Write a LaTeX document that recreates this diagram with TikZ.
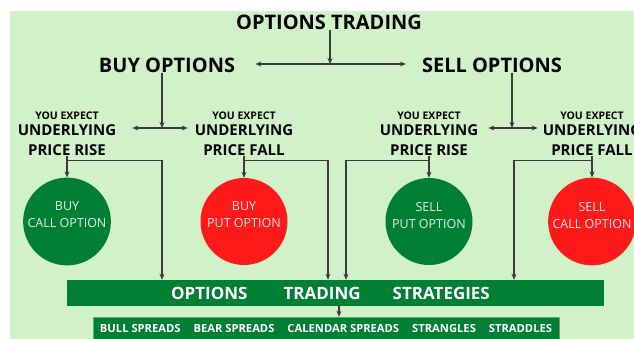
\documentclass[tikz,border=0pt]{standalone}
\usepackage{fontspec}
\setmainfont{Open Sans}
\usetikzlibrary{arrows.meta}

\definecolor{paleleaf}{HTML}{D1F2C8}
\definecolor{bull}{HTML}{007F35}
\definecolor{bear}{HTML}{FF1A1A}
\definecolor{wire}{HTML}{3A3A3A}

\newcommand{\expect}[1]{%
  {\fontsize{10.5}{12}\selectfont YOU EXPECT}\\[-3pt]
  UNDERLYING\\[1pt]
  PRICE #1}

\tikzset{
  >={Stealth[length=6pt,width=5pt]},
  arr/.style={draw=wire, line width=1.1pt, ->},
  head/.style={font=\bfseries\fontsize{20}{20}\selectfont, inner sep=0pt},
  expectation/.style={align=center, inner sep=0pt,
    font=\bfseries\fontsize{15}{19}\selectfont},
  choice/.style={circle, minimum size=87pt, inner sep=0pt, align=center,
    text depth=13pt, text=white, text opacity=0.88,
    font=\fontsize{12.5}{17}\selectfont},
  bar/.style={fill=bull, text=white, inner sep=0pt},
}

\begin{document}
\begin{tikzpicture}[x=1pt,y=-1pt]
  \useasboundingbox (0,0) rectangle (634,339);
  \fill[white] (0,0) rectangle (634,339);
  \fill[paleleaf] (10,11) rectangle (634,339);

  \node[head] (title) at (329,22) {OPTIONS TRADING};
  \node[head] (buy) at (167,65) {BUY OPTIONS};
  \node[head] (sell) at (492,65) {SELL OPTIONS};

  \node[expectation] (buyrise) at (67,134) {\expect{RISE}};
  \node[expectation] (buyfall) at (244,134) {\expect{FALL}};
  \node[expectation] (sellrise) at (429,134) {\expect{RISE}};
  \node[expectation] (sellfall) at (592,134) {\expect{FALL}};

  \node[choice, fill=bull] (buycall) at (67,221.5) {BUY\\CALL OPTION};
  \node[choice, fill=bear] (buyput) at (244,221.5) {BUY\\PUT OPTION};
  \node[choice, fill=bull] (sellput) at (429,221.5) {SELL\\PUT OPTION};
  \node[choice, fill=bear] (sellcall) at (592,221.5) {SELL\\CALL OPTION};

  \node[bar, minimum width=537pt, minimum height=26pt,
    font=\bfseries\fontsize{17}{17}\selectfont] (strategies) at (335.5,293)
    {\hspace*{-10pt}OPTIONS\hspace{36pt}TRADING\hspace{32pt}STRATEGIES};
  \node[bar, draw=bull!60!paleleaf, minimum width=466pt, minimum height=23pt,
    font=\bfseries\fontsize{11.2}{11.2}\selectfont] (kinds) at (326,328.5)
    {BULL SPREADS\hspace{13pt}BEAR SPREADS\hspace{13pt}CALENDAR SPREADS%
     \hspace{13pt}STRANGLES\hspace{13pt}STRADDLES};

  % top split
  \coordinate (mainsplit) at (330,64);
  \draw[arr] (title.south -| mainsplit) -- (mainsplit);
  \draw[arr, <->] ([xshift=20pt]buy.east |- mainsplit) -- ([xshift=-16pt]sell.west |- mainsplit);

  \coordinate (buysplit) at (162,128);
  \coordinate (sellsplit) at (512,128);
  \draw[arr] (buy.south -| buysplit) -- (buysplit);
  \draw[arr] (sell.south -| sellsplit) -- (sellsplit);
  \draw[arr, <->] ([xshift=16pt]buyrise.east |- buysplit) -- ([xshift=-7pt]buyfall.west |- buysplit);
  \draw[arr, <->] ([xshift=10pt]sellrise.east |- sellsplit) -- ([xshift=-5pt]sellfall.west |- sellsplit);

  % expectations to options and to the strategies bar
  \foreach \from/\to/\drop in {buyrise/buycall/162, buyfall/buyput/328,
                              sellrise/sellput/346, sellfall/sellcall/514} {
    \draw[arr] (\from.south) -- (\to.north);
    \draw[arr] ([yshift=-4.5pt]\from.south) -| (strategies.north -| \drop,0);
  }

  \draw[arr] (strategies.south -| 339,0) -- (kinds.north -| 339,0);
\end{tikzpicture}
\end{document}
